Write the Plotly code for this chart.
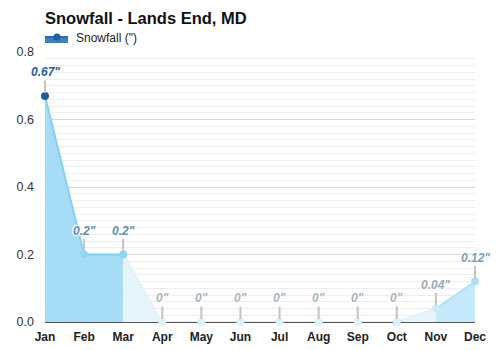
import plotly.graph_objects as go

months = ["Jan", "Feb", "Mar", "Apr", "May", "Jun", "Jul", "Aug", "Sep", "Oct", "Nov", "Dec"]
snowfall = [0.67, 0.2, 0.2, 0, 0, 0, 0, 0, 0, 0, 0.04, 0.12]
labels = ['0.67"', '0.2"', '0.2"', '0"', '0"', '0"', '0"', '0"', '0"', '0"', '0.04"', '0.12"']
y_ticks = [0, 0.2, 0.4, 0.6, 0.8]
y_ticklabels = ["0.0", "0.2", "0.4", "0.6", "0.8"]
series_name = 'Snowfall (")'

# styles
seg_fill = ["#a6dcf6", "#a6dcf6", "#e6f5fc", "rgba(0,0,0,0)", "rgba(0,0,0,0)", "rgba(0,0,0,0)",
            "rgba(0,0,0,0)", "rgba(0,0,0,0)", "rgba(0,0,0,0)", "#e6f5fc", "#c4e9fa"]
seg_line = ["#7fd2f6", "#7fd2f6", "#e2f3fb", "#dcf1fb", "#dcf1fb", "#dcf1fb",
            "#dcf1fb", "#dcf1fb", "#dcf1fb", "#dff3fb", "#b0e1f8"]
marker_colors = ["#1d5e9e", "#8fd6f6", "#8fd6f6", "#dcf1fb", "#dcf1fb", "#dcf1fb",
                 "#dcf1fb", "#dcf1fb", "#dcf1fb", "#dcf1fb", "#d0ecfa", "#ade0f8"]
label_colors = ["#1d5e9e", "#5b8fb1", "#5b8fb1", "#a9b3ba", "#a9b3ba", "#a9b3ba",
                "#a9b3ba", "#a9b3ba", "#a9b3ba", "#a9b3ba", "#9ea9b1", "#7b9db5"]

fig = go.Figure()

# group consecutive segments sharing a style into one trace
groups = []
start = 0
for i in range(1, len(months) - 1):
    if (seg_fill[i], seg_line[i]) != (seg_fill[start], seg_line[start]):
        groups.append((start, i))
        start = i
groups.append((start, len(months) - 1))

for a, b in groups:
    fig.add_trace(go.Scatter(
        x=months[a:b + 1], y=snowfall[a:b + 1],
        mode="lines", fill="tozeroy", fillcolor=seg_fill[a],
        line=dict(color=seg_line[a], width=2), showlegend=False,
        hoverinfo="skip", cliponaxis=False,
    ))

fig.add_trace(go.Scatter(
    x=months, y=snowfall, mode="markers",
    marker=dict(color=marker_colors, size=8), showlegend=False, cliponaxis=False,
))

for m, v, t, c in zip(months, snowfall, labels, label_colors):
    fig.add_annotation(
        x=m, y=v, text=t, showarrow=True, arrowhead=0, arrowwidth=2,
        arrowcolor="#c4c4c4", ax=0, ay=-24, standoff=3,
        font=dict(family="Liberation Sans, Arial", size=12, color=c,
                  weight="bold", style="italic",
                  shadow="1px 1px 1px white, -1px -1px 1px white, 1px -1px 1px white, -1px 1px 1px white"),
    )

# manual legend (plot area: x 45..475 px, y 52..322 px)
def px(xp):
    return (xp - 45) / 430

def py(yp):
    return (322 - yp) / 270

fig.add_shape(type="rect", xref="paper", yref="paper",
              x0=px(45), x1=px(68), y0=py(43), y1=py(36),
              fillcolor="#3f7fbf", line=dict(width=0), layer="above")
fig.add_shape(type="line", xref="paper", yref="paper",
              x0=px(45), x1=px(68), y0=py(37), y1=py(37),
              line=dict(color="#2a6aa8", width=2), layer="above")
fig.add_shape(type="circle", xref="paper", yref="paper",
              x0=px(53.5), x1=px(60.5), y0=py(40.5), y1=py(33.5),
              fillcolor="#1d5e9e", line=dict(width=0), layer="above")
fig.add_annotation(xref="paper", yref="paper", x=px(74), y=py(38),
                   xanchor="left", yanchor="middle", showarrow=False,
                   text=series_name, font=dict(size=12, color="#222"))

fig.update_layout(
    width=500, height=350,
    margin=dict(l=45, r=25, t=52, b=28),
    paper_bgcolor="white", plot_bgcolor="white",
    font=dict(family="Liberation Sans, Arial", size=12, color="#333"),
    title=dict(text="<b>Snowfall - Lands End, MD</b>", x=0, xref="paper",
               y=1 - 18 / 350, yref="container", yanchor="middle", xanchor="left",
               font=dict(size=16.5, color="#111")),
    showlegend=False,
    hovermode=False,
)

fig.update_xaxes(
    type="category", categoryorder="array", categoryarray=months,
    range=[0, 11], showgrid=False, zeroline=False,
    showline=True, linecolor="#555", linewidth=1, layer="below traces",
    tickfont=dict(size=12, color="#222", weight="bold"), ticks="",
    ticklabelstandoff=4, automargin=False, fixedrange=True,
)
fig.update_yaxes(
    range=[0, 0.8], tickvals=y_ticks, ticktext=y_ticklabels,
    showgrid=True, gridcolor="#d6d6d6", gridwidth=1, zeroline=False,
    minor=dict(dtick=0.02, showgrid=True, gridcolor="#eeeeee", gridwidth=1),
    tickfont=dict(size=12.5, color="#333"), ticks="", showline=False,
    ticklabelstandoff=10, automargin=False, layer="below traces", fixedrange=True,
)

fig.write_html("out.html")
